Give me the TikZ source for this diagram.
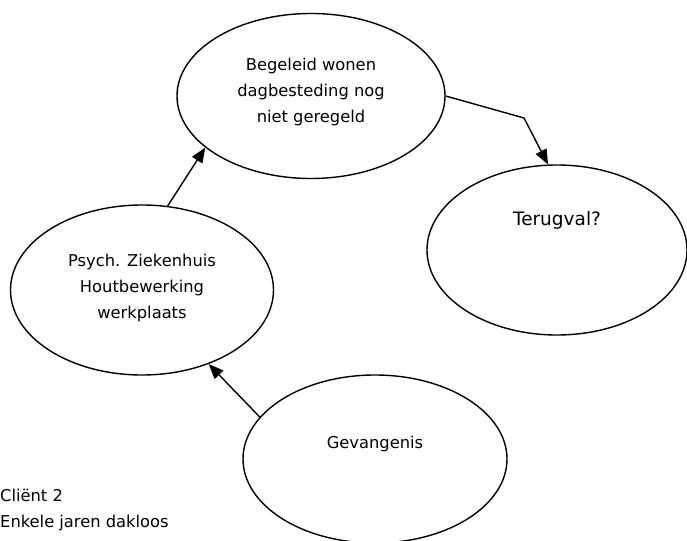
\documentclass[tikz,border=0pt]{standalone}
\usepackage{fontspec}
\setmainfont{DejaVu Sans}
\usetikzlibrary{shapes.geometric,arrows.meta}
\begin{document}
\begin{tikzpicture}[x=1bp,y=-1bp,
  oval/.style={draw=black,line width=1.4bp,ellipse,inner sep=0pt},
  lbl/.style={font=\fontsize{16.3bp}{26bp}\selectfont,align=center,inner sep=0pt},
  arr/.style={line width=1.4bp,-{Triangle[length=15bp,width=12bp]}}]
\useasboundingbox (0,0) rectangle (687,541);
\node[oval,minimum width=268bp,minimum height=165bp] (top) at (311,96) {};
\node[oval,minimum width=260bp,minimum height=170bp] (ter) at (557,250) {};
\node[oval,minimum width=263bp,minimum height=170bp] (psy) at (142,290) {};
\node[oval,minimum width=264bp,minimum height=168bp] (gev) at (375,459) {};
\node[lbl] (toptxt) at (311,92) {Begeleid wonen\\dagbesteding nog\\niet geregeld};
\node[lbl,font=\fontsize{18.5bp}{22bp}\selectfont] (tertxt) at (557,220) {Terugval?};
\node[lbl] (psytxt) at (142,288) {Psych. Ziekenhuis\\Houtbewerking\\werkplaats};
\node[lbl] (gevtxt) at (375,444) {Gevangenis};
\node[lbl,align=left,anchor=west] (client) at (0,510) {Cliënt 2\\Enkele jaren dakloos};
\coordinate (bend) at (524,118);
\draw[arr] (gev.160) -- (psy.-48);
\draw[arr] (psy.73) -- (top.-154);
\draw[arr] (top.0) -- (bend) -- (ter.96);
\end{tikzpicture}
\end{document}
